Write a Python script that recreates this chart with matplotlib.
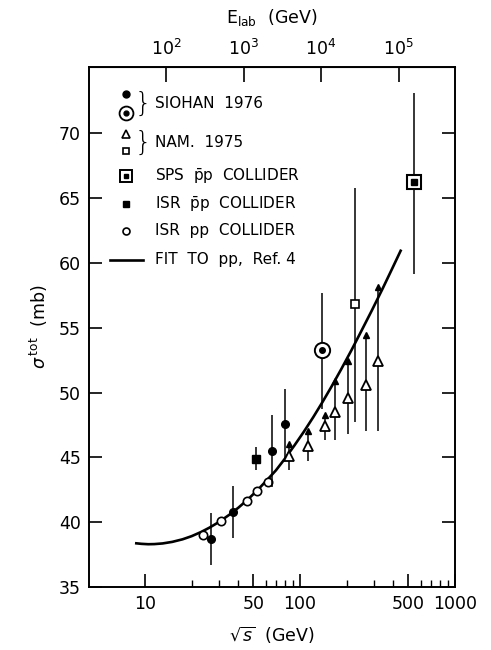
import numpy as np
import matplotlib
matplotlib.use('Agg')
import matplotlib.pyplot as plt
from matplotlib.ticker import FixedLocator, NullFormatter, NullLocator

plt.rcParams['font.family'] = ['DejaVu Sans']
plt.rcParams['mathtext.fontset'] = 'dejavusans'

# ISR pp collider
isr_pp_x = [23.6, 30.9, 45.3, 53.1, 61.9]
isr_pp_y = [39.0, 40.1, 41.6, 42.4, 43.1]

# ISR pbar-p collider
isr_pbp_x = [52.3]
isr_pbp_y = [44.9]
isr_pbp_err = [0.9]

# Siohan 1976 (filled dots)
sio_x = [26.5, 37.1, 66.5, 80.0]
sio_y = [38.7, 40.8, 45.5, 47.6]
sio_err = [2.0, 2.0, 2.75, 2.7]

# Siohan 1976 (circled dot)
sio2_x = [139]
sio2_y = [53.3]
sio2_lo = [48.7]
sio2_hi = [57.7]

# NAM 1975 triangles (with arrows on top)
nam_x = [85, 112, 144, 168, 205, 265, 317]
nam_y = [45.1, 45.9, 47.4, 48.5, 49.6, 50.6, 52.4]
nam_hi = [46.0, 47.0, 48.3, 50.9, 52.4, 54.4, 58.1]
nam_lo = [44.0, 44.7, 46.3, 46.3, 46.8, 47.0, 47.0]

# NAM 1975 square
nam2_x = [226]
nam2_y = [56.8]
nam2_lo = [47.7]
nam2_hi = [65.8]

# SPS pbar-p collider
sps_x = [540]
sps_y = [66.2]
sps_lo = [59.1]
sps_hi = [73.1]

# fit to pp, Ref. 4
fit_x = [8.8, 9.5, 10.5, 11.5, 13, 15, 17.5, 20, 23, 26, 30, 35, 40, 46, 53, 61, 70, 80, 92,
         106, 122, 140, 160, 185, 215, 250, 290, 340, 390, 446]
fit_y = [38.37, 38.33, 38.30, 38.31, 38.36, 38.48, 38.68, 38.92, 39.24, 39.57, 40.01, 40.57, 41.11,
         41.74, 42.45, 43.22, 44.0, 44.9, 45.91, 46.98, 48.11, 49.28, 50.47, 51.82, 53.27, 54.79,
         56.3, 57.97, 59.46, 60.93]

elab_ticks = [1e2, 1e3, 1e4, 1e5]
elab_labels = [r'$10^{2}$', r'$10^{3}$', r'$10^{4}$', r'$10^{5}$']
mp = 0.938

fig = plt.figure(figsize=(4.91, 6.5), dpi=100)
ax = fig.add_axes([0.1813, 0.0969, 0.7454, 0.8])

ew = 1.1
# fit curve
ax.plot(fit_x, fit_y, color='k', lw=1.9, zorder=2, solid_joinstyle='round')

# ISR pp
ax.plot(isr_pp_x, isr_pp_y, 'o', ms=6, mfc='white', mec='k', mew=1.2, zorder=4)

# ISR pbar p
ax.errorbar(isr_pbp_x, isr_pbp_y, yerr=isr_pbp_err, fmt='s', ms=5.5, color='k', elinewidth=ew, capsize=0, zorder=4)

# Siohan dots
ax.errorbar(sio_x, sio_y, yerr=sio_err, fmt='o', ms=5.5, color='k', elinewidth=ew, capsize=0, zorder=4)

# Siohan circled dot
ax.vlines(sio2_x, sio2_lo, sio2_hi, color='k', lw=ew, zorder=3)
ax.plot(sio2_x, sio2_y, 'o', ms=11, mfc='white', mec='k', mew=1.4, zorder=4)
ax.plot(sio2_x, sio2_y, 'o', ms=4, color='k', zorder=5)

# NAM triangles
ax.vlines(nam_x, nam_lo, nam_hi, color='k', lw=ew, zorder=3)
ax.plot(nam_x, nam_hi, '^', ms=4, color='k', zorder=4)
ax.plot(nam_x, nam_y, '^', ms=7.5, mfc='white', mec='k', mew=1.3, zorder=4)

# NAM square
ax.vlines(nam2_x, nam2_lo, nam2_hi, color='k', lw=ew, zorder=3)
ax.plot(nam2_x, nam2_y, 's', ms=6, mfc='white', mec='k', mew=1.2, zorder=4)

# SPS
ax.vlines(sps_x, sps_lo, sps_hi, color='k', lw=ew, zorder=3)
ax.plot(sps_x, sps_y, 's', ms=10.5, mfc='white', mec='k', mew=1.5, zorder=4)
ax.plot(sps_x, sps_y, 's', ms=4, color='k', zorder=5)

ax.set_xscale('log')
ax.set_xlim(4.36, 1000)
ax.set_ylim(35, 75.1)

ax.xaxis.set_major_locator(FixedLocator([10, 50, 100, 500, 1000]))
ax.xaxis.set_minor_locator(FixedLocator([20, 30, 40, 60, 70, 80, 90, 200, 300, 400, 600, 700, 800, 900]))
ax.xaxis.set_minor_formatter(NullFormatter())
ax.set_xticklabels(['10', '50', '100', '500', '1000'])
ax.set_yticks(np.arange(35, 71, 5))

ax.tick_params(axis='both', which='major', direction='in', length=9.5, width=1.2, labelsize=12.5, right=True, top=False, pad=6)
ax.tick_params(axis='x', which='minor', direction='in', length=5, width=1.0, top=False)
for s in ax.spines.values():
    s.set_linewidth(1.4)

ax.set_xlabel(r'$\sqrt{s}$  (GeV)', fontsize=12.5, labelpad=8)
ax.set_ylabel(r'$\sigma^{\,\mathrm{tot}}$  (mb)', fontsize=12.5, labelpad=6)

secax = ax.secondary_xaxis('top', functions=(lambda x: x ** 2 / (2 * mp), lambda e: np.sqrt(np.abs(e) * 2 * mp)))
secax.xaxis.set_major_locator(FixedLocator(elab_ticks))
secax.xaxis.set_minor_locator(NullLocator())
secax.set_xticklabels(elab_labels)
secax.tick_params(axis='x', which='major', direction='in', length=11, width=1.2, labelsize=12.5, pad=6)
secax.set_xlabel(r'E$_{\mathrm{lab}}$  (GeV)', fontsize=12.5, labelpad=11)

# legend by hand
tr = ax.transAxes
mx = 0.101
tx = 0.18
fs = 11
ax.plot([mx], [0.948], 'o', ms=5, color='k', transform=tr, clip_on=False)
ax.plot([mx], [0.912], 'o', ms=10, mfc='white', mec='k', mew=1.3, transform=tr)
ax.plot([mx], [0.912], 'o', ms=3.5, color='k', transform=tr)
ax.text(0.148, 0.930, '}', fontsize=19, va='center', ha='center', transform=tr, fontweight='light')
ax.text(tx, 0.929, 'SIOHAN  1976', fontsize=fs, va='center', transform=tr)

ax.plot([mx], [0.871], '^', ms=6, mfc='white', mec='k', mew=1.2, transform=tr)
ax.plot([mx], [0.839], 's', ms=5, mfc='white', mec='k', mew=1.2, transform=tr)
ax.text(0.148, 0.855, '}', fontsize=19, va='center', ha='center', transform=tr, fontweight='light')
ax.text(tx, 0.854, 'NAM.  1975', fontsize=fs, va='center', transform=tr)

ax.plot([mx], [0.790], 's', ms=9, mfc='white', mec='k', mew=1.4, transform=tr)
ax.plot([mx], [0.790], 's', ms=3.5, color='k', transform=tr)
ax.text(tx, 0.790, r'SPS  $\bar{\mathrm{p}}\mathrm{p}$  COLLIDER', fontsize=fs, va='center', transform=tr)

ax.plot([mx], [0.7365], 's', ms=5, color='k', transform=tr)
ax.text(tx, 0.7365, r'ISR  $\bar{\mathrm{p}}\mathrm{p}$  COLLIDER', fontsize=fs, va='center', transform=tr)

ax.plot([mx], [0.685], 'o', ms=5, mfc='white', mec='k', mew=1.2, transform=tr)
ax.text(tx, 0.685, 'ISR  pp  COLLIDER', fontsize=fs, va='center', transform=tr)

ax.plot([0.057, 0.148], [0.629, 0.629], color='k', lw=1.9, transform=tr)
ax.text(tx, 0.629, 'FIT  TO  pp,  Ref. 4', fontsize=fs, va='center', transform=tr)

fig.savefig('out.png', dpi=100)
